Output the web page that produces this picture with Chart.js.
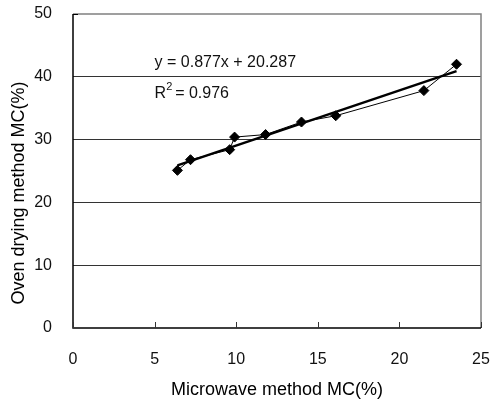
<!DOCTYPE html>
<html>
<head>
<meta charset="utf-8">
<script src="https://cdn.jsdelivr.net/npm/chart.js@4.4.1/dist/chart.umd.min.js"></script>
<style>
  html, body { margin: 0; padding: 0; background: #fff; }
  #wrap { width: 494px; height: 405px; }
</style>
</head>
<body>
<div id="wrap"><canvas id="mc" width="494" height="405"></canvas></div>
<script>
const microwaveMC = [6.4, 7.2, 9.6, 9.9, 11.8, 14.0, 16.1, 21.5, 23.5];
const ovenMC      = [25.1, 26.8, 28.4, 30.4, 30.8, 32.8, 33.8, 37.8, 42.0];
// linear trend line end points
const trendX = [6.4, 23.5];
const trendY = [25.9, 40.9];
const xTicks = [0, 5, 10, 15, 20, 25];
const yTicks = [0, 10, 20, 30, 40, 50];
const eqText = 'y = 0.877x + 20.287';
const r2Text = '= 0.976';
const yTitle = 'Oven drying method MC(%)';

const pts = microwaveMC.map((x, i) => ({ x: x, y: ovenMC[i] }));
const trend = trendX.map((x, i) => ({ x: x, y: trendY[i] }));

const font = '"Liberation Sans", Arial, sans-serif';

// frame, inward x ticks, equation text, y title
const extras = {
  id: 'extras',
  afterDraw(chart) {
    const ctx = chart.ctx;
    const xs = chart.scales.x, ys = chart.scales.y;
    const a = chart.chartArea;
    ctx.save();
    ctx.strokeStyle = '#808080';
    ctx.lineWidth = 1.5;
    ctx.beginPath();
    ctx.moveTo(a.left, a.top);
    ctx.lineTo(a.right, a.top);
    ctx.lineTo(a.right, a.bottom);
    ctx.stroke();
    ctx.strokeStyle = '#000';
    ctx.lineWidth = 1.5;
    ctx.beginPath();
    ctx.moveTo(a.left, a.top);
    ctx.lineTo(a.left, a.bottom);
    ctx.lineTo(a.right, a.bottom);
    ctx.stroke();
    ctx.lineWidth = 1;
    ctx.strokeStyle = '#333';
    xTicks.forEach(v => {
      const px = Math.round(xs.getPixelForValue(v)) + 0.5;
      ctx.beginPath();
      ctx.moveTo(px, a.bottom);
      ctx.lineTo(px, a.bottom - 6);
      ctx.stroke();
    });
    const yTop = Math.round(ys.getPixelForValue(50)) + 0.5;
    ctx.strokeStyle = '#000';
    ctx.beginPath();
    ctx.moveTo(a.left, yTop);
    ctx.lineTo(a.left + 5, yTop);
    ctx.stroke();
    // equation
    ctx.fillStyle = '#111';
    ctx.font = '16px ' + font;
    ctx.textBaseline = 'middle';
    ctx.textAlign = 'left';
    const ex = xs.getPixelForValue(5.0);
    ctx.fillText(eqText, ex, ys.getPixelForValue(42.2));
    const ry = ys.getPixelForValue(37.4);
    ctx.fillText('R', ex, ry);
    const rw = ctx.measureText('R').width;
    ctx.font = '11px ' + font;
    ctx.fillText('2', ex + rw, ry - 6);
    ctx.font = '16px ' + font;
    ctx.fillText(r2Text, ex + rw + 9, ry);
    // y axis title, sits a bit below centre like the original
    ctx.fillStyle = '#000';
    ctx.font = '18px ' + font;
    ctx.textAlign = 'center';
    ctx.translate(19, ys.getPixelForValue(21.5));
    ctx.rotate(-Math.PI / 2);
    ctx.fillText(yTitle, 0, 0);
    ctx.restore();
  }
};

new Chart(document.getElementById('mc'), {
  type: 'scatter',
  data: {
    datasets: [
      {
        label: 'data',
        data: pts,
        showLine: true,
        borderColor: '#000',
        borderWidth: 1,
        backgroundColor: '#000',
        pointStyle: 'rectRot',
        pointRadius: 5,
        pointBorderWidth: 1,
        order: 1
      },
      {
        label: 'trend',
        data: trend,
        showLine: true,
        borderColor: '#000',
        borderWidth: 2.5,
        pointRadius: 0,
        order: 2
      }
    ]
  },
  options: {
    responsive: false,
    animation: false,
    layout: { padding: { top: 14, right: 13, left: 0, bottom: 0 } },
    plugins: {
      legend: { display: false },
      tooltip: { enabled: false }
    },
    scales: {
      x: {
        type: 'linear',
        min: 0, max: 25,
        afterBuildTicks: s => { s.ticks = xTicks.map(v => ({ value: v })); },
        afterFit: s => { s.height = 77; s.paddingLeft = 0; s.paddingRight = 0; },
        grid: { display: false, drawTicks: false },
        border: { display: false },
        ticks: { color: '#111', font: { family: font, size: 16 }, padding: 22 },
        title: {
          display: true,
          text: 'Microwave method MC(%)',
          color: '#000',
          font: { family: font, size: 18 },
          padding: { top: 5 }
        }
      },
      y: {
        type: 'linear',
        min: 0, max: 50,
        afterBuildTicks: s => { s.ticks = yTicks.map(v => ({ value: v })); },
        afterFit: s => { s.width = 73; s.paddingTop = 0; s.paddingBottom = 0; },
        grid: {
          drawTicks: false,
          color: ctx => (ctx.tick.value > 0 && ctx.tick.value < 50) ? '#333' : 'rgba(0,0,0,0)',
          lineWidth: 1
        },
        border: { display: false },
        ticks: { color: '#111', font: { family: font, size: 16 }, padding: 21 }
      }
    }
  },
  plugins: [extras]
});
</script>
</body>
</html>
